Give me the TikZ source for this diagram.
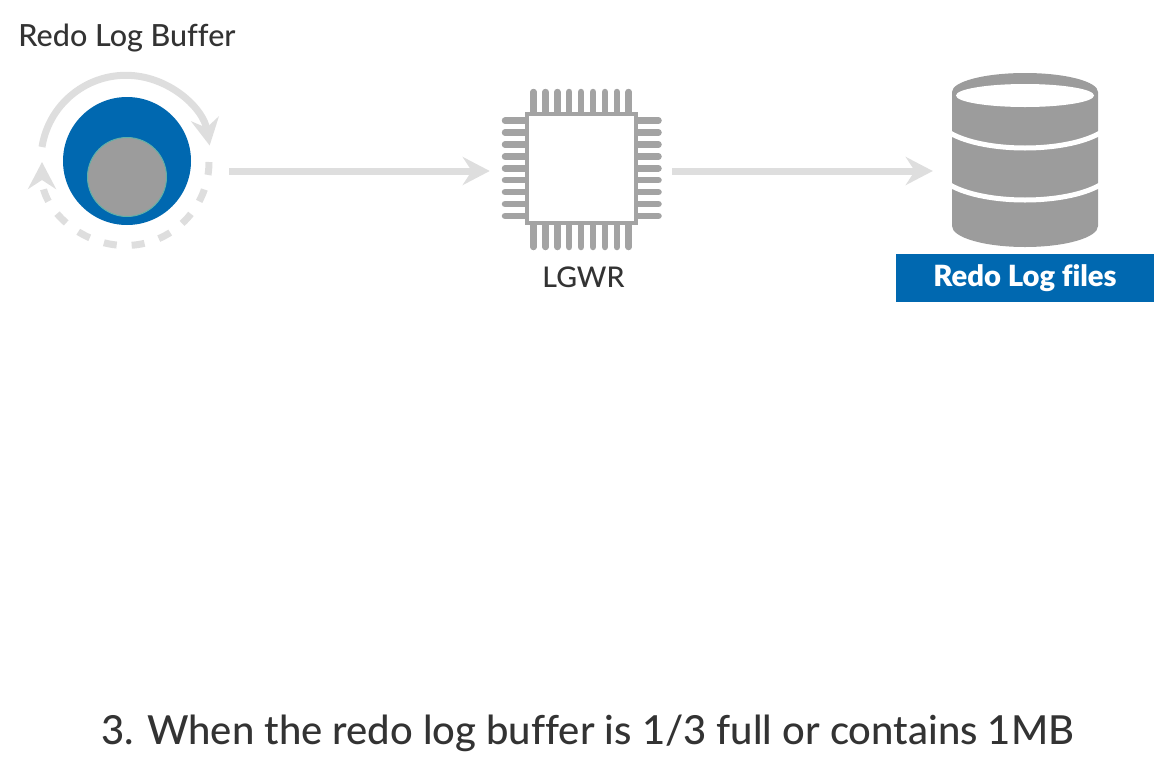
\documentclass[tikz,border=0pt]{standalone}
\usepackage{fontspec}
\setmainfont[Ligatures=CommonOff]{Lato Medium}
\usetikzlibrary{arrows.meta, positioning, calc}
\definecolor{CBlue}{HTML}{0068B0}
\definecolor{CGray}{HTML}{9C9C9C}
\definecolor{CChip}{HTML}{A3A3A3}
\definecolor{CFlow}{HTML}{DEDEDE}
\definecolor{CText}{HTML}{333333}
\definecolor{CTeal}{HTML}{5FB0A8}
\tikzset{
    flowline/.style={CFlow, line width=7pt, -{Stealth[length=27pt, width=28pt, inset=9pt]}},
    pinline/.style={CChip, line width=6.5pt, line cap=round},
    caption/.style={CText, inner sep=0pt}
}

\begin{document}
\begin{tikzpicture}[x=1pt, y=-1pt]
    \useasboundingbox (0,0) rectangle (1170,761);

    % Buffer
    \node[caption, font=\fontsize{30.5}{34}\selectfont] (BufferTitle) at (127,38.5) {Redo Log Buffer};
    \node[circle, fill=CBlue, minimum size=128pt, inner sep=0pt] (BufferDisk) at (127,161) {};
    \node[circle, fill=CGray, draw=CTeal, line width=1pt, minimum size=79pt, inner sep=0pt] (BufferFill) at (127,177) {};
    \node[circle, minimum size=204pt, inner sep=0pt] (BufferRing) at (127,171) {};
    \draw[flowline] (42,147) arc[start angle=171, end angle=10, radius=85pt];
    \draw[flowline, dash pattern=on 13pt off 15pt] (209,162) arc[start angle=0, end angle=-180, radius=83.5pt];

    % Chip
    \foreach \i in {0,...,8} {
        \draw[pinline] (533.5+\i*11.9,92) -- (533.5+\i*11.9,114);
        \draw[pinline] (533.5+\i*11.9,223) -- (533.5+\i*11.9,247);
        \draw[pinline] (505,120.7+\i*11.9) -- (527,120.7+\i*11.9);
        \draw[pinline] (636,120.7+\i*11.9) -- (658.5,120.7+\i*11.9);
    }
    \node[draw=CChip, fill=white, line width=4.5pt, minimum size=109pt, inner sep=0pt] (ChipBody) at (581.5,168.5) {};
    \node[caption, font=\fontsize{28.5}{32}\selectfont] (ChipLabel) at (583.5,277) {LGWR};

    % Database
    \node[minimum width=146pt, minimum height=174pt, inner sep=0pt] (DbBody) at (1025,160) {};
    \fill[CGray] (952,92) arc[start angle=180, end angle=0, x radius=73pt, y radius=19pt]
        -- (1098,226) arc[start angle=0, end angle=-180, x radius=73pt, y radius=21pt] -- cycle;
    \fill[white] (1025,95.5) ellipse[x radius=69pt, y radius=11.5pt];
    \foreach \y in {133,185} {
        \draw[white, line width=5pt] (950,\y) .. controls (985,\y+20) and (1065,\y+20) .. (1100,\y);
    }
    \node[fill=CBlue, text=white, minimum width=258pt, minimum height=48pt, inner sep=0pt, font=\fontsize{29.2}{32}\selectfont\bfseries] (DbLabel) at (1025,278) {Redo Log files};

    % Flow
    \draw[flowline, shorten >=35pt] (BufferRing.east) -- (BufferRing.east -| ChipBody.west);
    \draw[flowline, shorten <=34pt, shorten >=19pt] (ChipBody.east |- BufferRing.east) -- (DbBody.west |- BufferRing.east);

    \node[caption, font=\fontsize{40}{44}\selectfont] (StepText) at (587.5,733) {3. When the redo log buffer is 1/3 full or contains 1MB};
\end{tikzpicture}
\end{document}
